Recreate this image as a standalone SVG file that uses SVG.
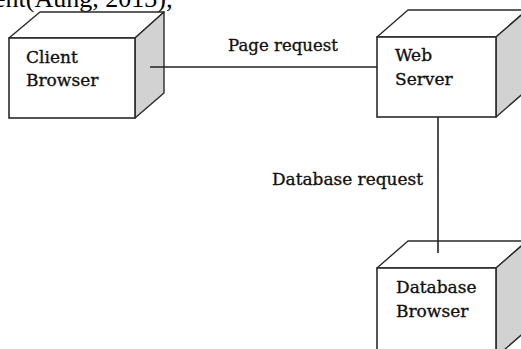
<svg xmlns="http://www.w3.org/2000/svg" width="521" height="349" viewBox="0 0 521 349">
<style>
.front{fill:#fff;stroke:#2a2a2a;stroke-width:1.6}
.top{fill:#fff;stroke:#2a2a2a;stroke-width:1.4;stroke-linejoin:round}
.side{fill:#d2d2d2;stroke:#2a2a2a;stroke-width:1.4;stroke-linejoin:round}
.lbl{font-family:"DejaVu Serif","Liberation Serif",serif;font-size:17px;fill:#111;stroke:#111;stroke-width:0.35}
.conn{stroke:#222;stroke-width:1.6;fill:none}
.cap{font-family:"Liberation Serif","Times New Roman",serif;font-size:26px;fill:#000}
</style>
<rect width="521" height="349" fill="#fff"/>
<text class="cap" x="-6" y="7">ent(Aung, 2013);</text>
<g id="client">
<polygon class="top" points="9,38 40,12 164,12 135,38"/>
<polygon class="side" points="135,38 164,12 164,93 135,118"/>
<rect class="front" x="9" y="38" width="126" height="80"/>
<text class="lbl" x="26" y="63">Client</text>
<text class="lbl" x="26" y="86">Browser</text>
</g>
<g id="webserver">
<polygon class="top" points="377,37 408,10 527,10 496,37"/>
<polygon class="side" points="496,37 527,10 527,90 496,117"/>
<rect class="front" x="377" y="37" width="119" height="80"/>
<text class="lbl" x="395" y="61">Web</text>
<text class="lbl" x="395" y="85">Server</text>
</g>
<g id="database">
<polygon class="top" points="377,268 408,241 527,241 496,268"/>
<polygon class="side" points="496,268 527,241 527,330 496,357"/>
<rect class="front" x="377" y="268" width="119" height="90"/>
<text class="lbl" x="396" y="293">Database</text>
<text class="lbl" x="396" y="317">Browser</text>
</g>
<g id="connectors">
<line class="conn" x1="150" y1="67" x2="377" y2="67"/>
<line class="conn" x1="438" y1="117" x2="438" y2="253"/>
<text class="lbl" x="228" y="51" font-size="16" textLength="110" lengthAdjust="spacingAndGlyphs">Page request</text>
<text class="lbl" x="272" y="185" font-size="16" textLength="151" lengthAdjust="spacingAndGlyphs">Database request</text>
</g>
</svg>
